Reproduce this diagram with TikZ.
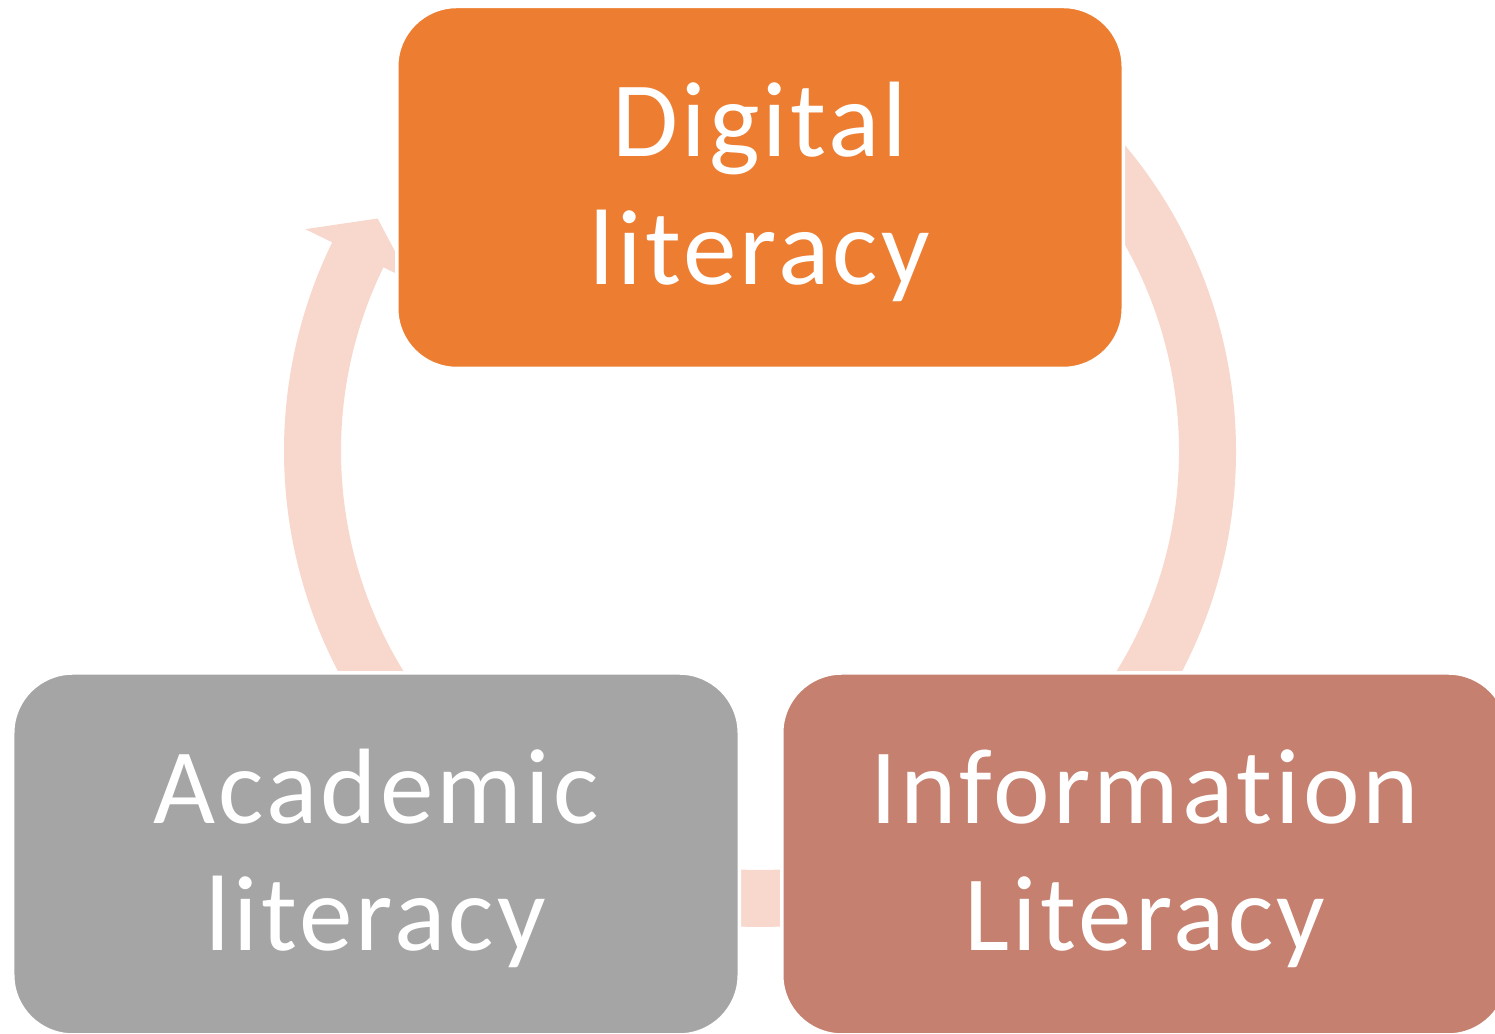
\documentclass[tikz,border=0pt]{standalone}
\usepackage{fontspec}
\setmainfont{Carlito}[Ligatures=NoCommon, LetterSpace=3]
\usepackage{tikz}
\usetikzlibrary{positioning}

\definecolor{digitalorange}{HTML}{ED7D31}
\definecolor{academicgray}{HTML}{A5A5A5}
\definecolor{inforose}{HTML}{C5806F}
\definecolor{cyclepink}{HTML}{F8D7CD}

\begin{document}
\begin{tikzpicture}[
    node distance=0.39cm,
    litnode/.style={draw=white, line width=0.035cm, rectangle, rounded corners=0.6cm, minimum width=7.265cm, minimum height=3.62cm, anchor=center, text=white, align=center, text height=2.11cm, font=\fontsize{30.5}{36.3}\selectfont}, % white rim over the ring
    ringstyle/.style={fill=cyclepink, draw=none}
]
\useasboundingbox (0,0) rectangle (14.95,10.34);
\coordinate (hub) at (7.6,5.83);

% Ring pieces first, the boxes cover their ends
\fill[ringstyle] ([shift={(hub)}]50:4.76) arc[start angle=50, end angle=-40, radius=4.76]
    -- ([shift={(hub)}]-40:4.19) arc[start angle=-40, end angle=50, radius=4.19] -- cycle;
\fill[ringstyle] ([shift={(hub)}]285:4.76) arc[start angle=285, end angle=255, radius=4.76]
    -- ([shift={(hub)}]255:4.19) arc[start angle=255, end angle=285, radius=4.19] -- cycle;
\fill[ringstyle] ([shift={(hub)}]215:4.76) arc[start angle=215, end angle=154, radius=4.76]
    -- ([shift={(hub)}]154:5.06) -- ([shift={(hub)}]148.7:4.475) -- ([shift={(hub)}]154:3.89)
    -- ([shift={(hub)}]154:4.19) arc[start angle=154, end angle=215, radius=4.19] -- cycle; % head

% Boxes
\node[litnode, fill=digitalorange] (digital) at (7.6,8.465) {Digital\\literacy};
\node[litnode, fill=academicgray] (academic) at (3.76,1.80) {Academic\\literacy};
\node[litnode, fill=inforose, right=of academic] (information) {Information\\Literacy};

\end{tikzpicture}
\end{document}
